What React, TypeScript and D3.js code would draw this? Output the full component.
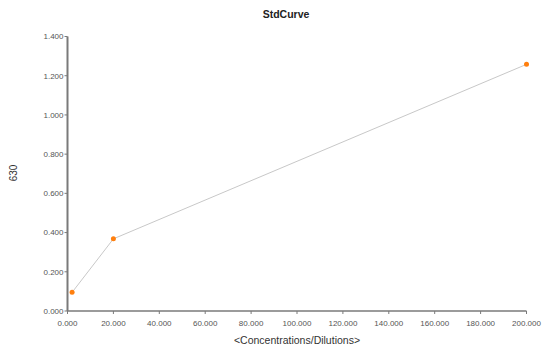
import React from "react";
import * as d3 from "d3";

const concentrations = [2, 20, 200];
const absorbance = [0.095, 0.368, 1.258];
const xTicks = [0, 20, 40, 60, 80, 100, 120, 140, 160, 180, 200];
const yTicks = [0, 0.2, 0.4, 0.6, 0.8, 1.0, 1.2, 1.4];
const title = "StdCurve";
const xLabel = "<Concentrations/Dilutions>";
const yLabel = "630";

export default function App() {
  const W = 542, H = 348;
  const x = d3.scaleLinear().domain([0, 200]).range([67.5, 526.5]);
  const y = d3.scaleLinear().domain([0, 1.4]).range([311, 36.5]);
  const pts = concentrations.map((c, i) => [c, absorbance[i]] as [number, number]);
  const line = d3.line<[number, number]>().x(d => x(d[0])).y(d => y(d[1]));
  const fmt = d3.format(",.3f");
  const font = "Liberation Sans, Arial, sans-serif";
  const axisColor = "#7a7a7a";
  return (
    <svg width={W} height={H} style={{ position: "absolute", left: 0, top: 0, background: "#fff" }} fontFamily={font}>
      <text x={286} y={18} textAnchor="middle" fontSize={10.5} fontWeight="bold" fill="#222">{title}</text>
      {/* y axis */}
      <line x1={x(0)} x2={x(0)} y1={y(1.4)} y2={y(0)} stroke={axisColor} strokeWidth={2} />
      {yTicks.map(t => (
        <g key={"y" + t}>
          <line x1={x(0) - 3} x2={x(0)} y1={y(t)} y2={y(t)} stroke={axisColor} strokeWidth={1} />
          <text x={x(0) - 4} y={y(t)} dy="0.35em" textAnchor="end" fontSize={8} fill="#555">{fmt(t)}</text>
        </g>
      ))}
      {/* x axis */}
      <line x1={x(0)} x2={x(200)} y1={y(0)} y2={y(0)} stroke={axisColor} strokeWidth={1.3} />
      {xTicks.map(t => (
        <g key={"x" + t}>
          <line x1={x(t)} x2={x(t)} y1={y(0)} y2={y(0) + 3} stroke={axisColor} strokeWidth={1} />
          <text x={x(t)} y={y(0) + 15} textAnchor="middle" fontSize={8} fill="#555">{fmt(t)}</text>
        </g>
      ))}
      <text x={297} y={344} textAnchor="middle" fontSize={10.5} fill="#333">{xLabel}</text>
      <text transform={`translate(17,173) rotate(-90)`} textAnchor="middle" fontSize={10} fill="#333">{yLabel}</text>
      <path d={line(pts) || ""} fill="none" stroke="#c8c8c8" strokeWidth={1} />
      {pts.map((p, i) => (
        <circle key={i} cx={x(p[0])} cy={y(p[1])} r={2.5} fill="#ff7f0e" />
      ))}
    </svg>
  );
}
